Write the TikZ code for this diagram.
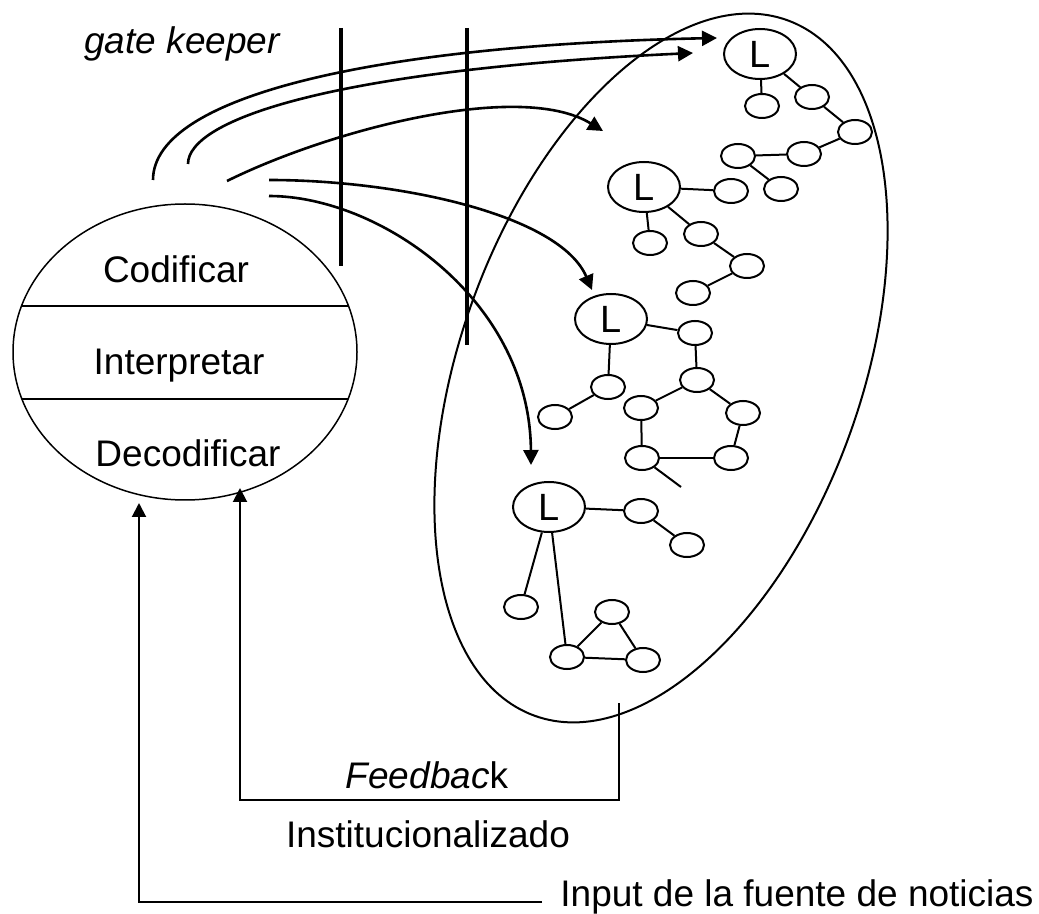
\documentclass[tikz,border=0pt]{standalone}
\usepackage{fontspec}
\setmainfont{Liberation Sans}
\usetikzlibrary{arrows.meta,shapes.geometric}
\tikzset{
  txt/.style={font=\fontsize{18.5}{22}\selectfont, inner sep=0pt, anchor=base},
  lead/.style={ellipse, draw=black, line width=1pt, minimum width=36pt, minimum height=25pt, inner sep=0pt, font=\fontsize{19}{22}\selectfont},
  member/.style={ellipse, draw=black, line width=1pt, minimum width=17pt, minimum height=12pt, inner sep=0pt},
  tie/.style={line width=1pt},
  flow/.style={line width=1.3pt, -{Triangle[length=7.5pt,width=7.5pt]}},
  back/.style={line width=1pt, -{Triangle[length=7pt,width=7pt]}},
  gate/.style={line width=2pt}
}

\begin{document}
\begin{tikzpicture}[x=0.5pt,y=-0.5pt]
  \useasboundingbox (0,0) rectangle (1039,914);
  % Encoder
  \node[ellipse, draw, line width=0.75pt, minimum width=172pt, minimum height=148pt, inner sep=0pt] (proc) at (185,352) {};
  \begin{scope}
    \clip (185,352) ellipse [x radius=172, y radius=148];
    \foreach \y in {306,399}{
      \draw[line width=0.75pt] (0,\y) -- (400,\y);
    }
  \end{scope}
  \node[txt] (cod) at (176,283) {Codificar};
  \node[txt] (interp) at (179,375) {Interpretar};
  \node[txt] (decod) at (188,467) {Decodificar};
  \node[txt] (keeper) at (182,54) {\itshape gate keeper};

  % Audience
  \node[ellipse, draw, line width=1pt, minimum width=200pt, minimum height=370pt, inner sep=0pt, rotate=-20] (field) at (661,368) {};

  % Leaders
  \node[lead] (leadA) at (760,54) {L};
  \node[lead] (leadB) at (644,187) {L};
  \node[lead] (leadC) at (611,319) {L};
  \node[lead] (leadD) at (549,507) {L};

  % Members
  \foreach \name/\x/\y in {a1/762/106, a2/812/97, a3/855/132, a4/804/154, a5/738/156, a6/781/189,
      b1/731/191, b2/650/243, b3/701/234, b4/747/266, b5/693/293,
      c1/695/333, c2/697/380, c3/608/387, c4/555/417, c5/641/408, c6/743/413, c7/642/458, c8/731/458,
      d1/641/511, d2/687/545, d3/521/607, d4/567/657, d5/612/612, d6/643/660}{
    \node[member] (\name) at (\x,\y) {};
  }
  \coordinate (cEnd) at (681,487);
  \foreach \a/\b in {leadA/a1, leadA/a2, a2/a3, a3/a4, a4/a5, a5/a6,
      leadB/b1, leadB/b2, leadB/b3, b3/b4, b4/b5,
      leadC/c1, c1/c2, leadC/c3, c3/c4, c2/c5, c2/c6, c5/c7, c6/c8, c7/c8, c7/cEnd,
      leadD/d1, d1/d2, leadD/d3, leadD/d4, d4/d5, d5/d6, d4/d6}{
    \draw[tie] (\a) -- (\b);
  }

  % Gates
  \draw[gate] (341,28) -- (341,266);
  \draw[gate] (467,28) -- (467,345);

  % Messages
  \coordinate (s1) at (153,180);
  \coordinate (s2) at (188,164);
  \coordinate (s3) at (227,181);
  \coordinate (s4) at (269,180);
  \coordinate (s5) at (269,196);
  \coordinate (t1) at (717,38);
  \coordinate (t2) at (693,53);
  \coordinate (t3) at (603,131);
  \coordinate (t4) at (592,290);
  \coordinate (t5) at (531,465);
  \draw[flow] (s1) .. controls (153,95) and (380,45) .. (t1);
  \draw[flow] (s2) .. controls (188,120) and (330,70) .. (t2);
  \draw[flow] (s3) .. controls (330,130) and (520,80) .. (t3);
  \draw[flow] (s4) .. controls (400,180) and (560,215) .. (t4);
  \draw[flow] (s5) .. controls (380,196) and (530,300) .. (t5);

  % Feedback
  \coordinate (fbStart) at (619,703);
  \coordinate (fbCorner) at (619,800);
  \coordinate (fbTip) at (240,488);
  \draw[back] (fbStart) -- (fbCorner) -| (fbTip);
  \node[txt] (fb) at (427,788) {\textit{Feedbac}k};
  \node[txt] (inst) at (428,847) {Institucionalizado};

  % Input
  \node[txt, anchor=base west, inner xsep=9pt] (input) at (542,906) {Input de la fuente de noticias};
  \coordinate (inTip) at (139,503);
  \draw[back] ([yshift=2pt]input.base west) -| (inTip);
\end{tikzpicture}
\end{document}
